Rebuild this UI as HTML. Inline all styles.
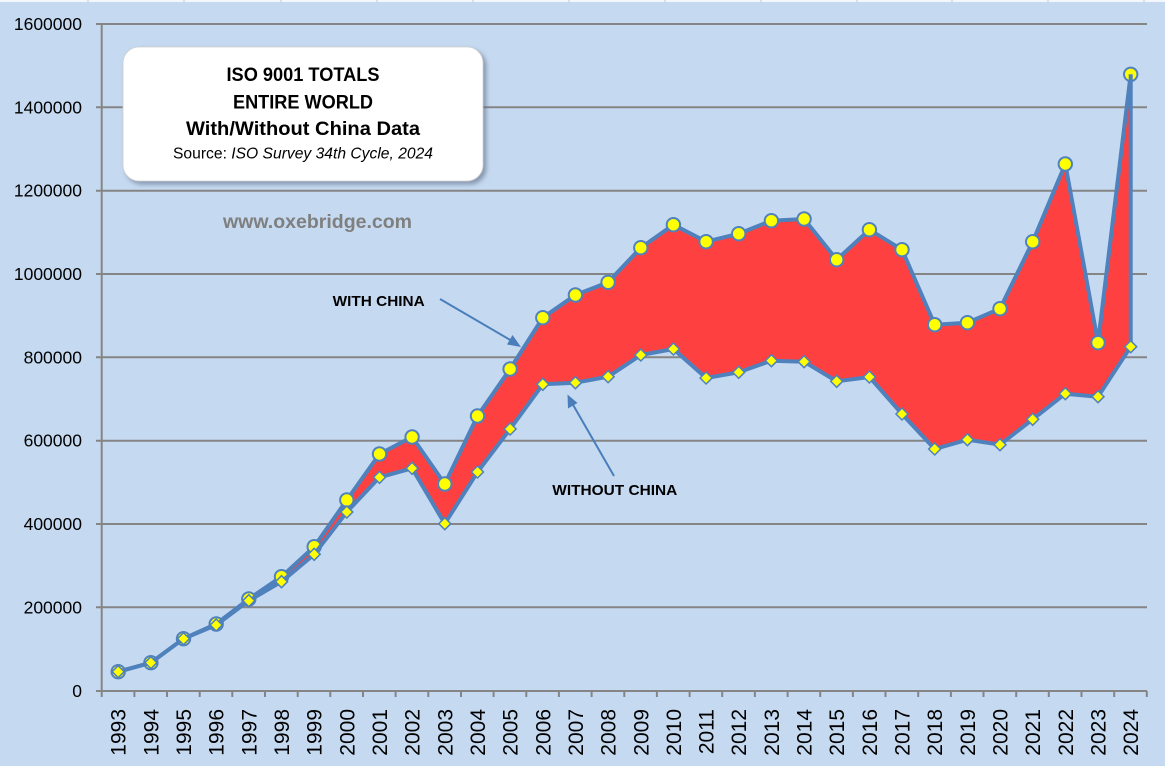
<!DOCTYPE html>
<html>
<head>
<meta charset="utf-8">
<style>
  html, body { margin: 0; padding: 0; background: #c5d9f1; }
  svg { display: block; }
  text { font-family: "Liberation Sans", "DejaVu Sans", sans-serif; }
</style>
</head>
<body>
<svg width="1165" height="766" viewBox="0 0 1165 766" xmlns="http://www.w3.org/2000/svg">
  <defs>
    <filter id="sh" x="-10%" y="-10%" width="125%" height="130%">
      <feDropShadow dx="3" dy="3" stdDeviation="2.5" flood-color="#5a6a80" flood-opacity="0.6"/>
    </filter>
  </defs>
  <rect x="0" y="0" width="1165" height="766" fill="#c5d9f1"/>
  <!-- top strip -->
  <rect x="0" y="0" width="1165" height="2" fill="#f3f6fa"/>
  <g stroke="#c8c8c8" stroke-width="1">
    <line x1="88" y1="0" x2="88" y2="2"/><line x1="184" y1="0" x2="184" y2="2"/>
    <line x1="281" y1="0" x2="281" y2="2"/><line x1="377" y1="0" x2="377" y2="2"/>
    <line x1="473" y1="0" x2="473" y2="2"/><line x1="569" y1="0" x2="569" y2="2"/>
    <line x1="665" y1="0" x2="665" y2="2"/><line x1="761" y1="0" x2="761" y2="2"/>
    <line x1="857" y1="0" x2="857" y2="2"/><line x1="952" y1="0" x2="952" y2="2"/>
    <line x1="1048" y1="0" x2="1048" y2="2"/><line x1="1144" y1="0" x2="1144" y2="2"/>
  </g>

  <!-- gridlines -->
  <g stroke="#858585" stroke-width="2">
    <line x1="96" y1="24" x2="1147" y2="24"/>
    <line x1="96" y1="107.3" x2="1147" y2="107.3"/>
    <line x1="96" y1="190.7" x2="1147" y2="190.7"/>
    <line x1="96" y1="274" x2="1147" y2="274"/>
    <line x1="96" y1="357.3" x2="1147" y2="357.3"/>
    <line x1="96" y1="440.7" x2="1147" y2="440.7"/>
    <line x1="96" y1="524" x2="1147" y2="524"/>
    <line x1="96" y1="607.3" x2="1147" y2="607.3"/>
    <line x1="96" y1="691" x2="1147" y2="691"/>
    <line x1="101.7" y1="24" x2="101.7" y2="691"/>
  </g>
  <!-- x ticks -->
  <g stroke="#858585" stroke-width="2">
    <line x1="101.7" y1="691" x2="101.7" y2="697"/><line x1="134.4" y1="691" x2="134.4" y2="697"/>
    <line x1="167" y1="691" x2="167" y2="697"/><line x1="199.7" y1="691" x2="199.7" y2="697"/>
    <line x1="232.3" y1="691" x2="232.3" y2="697"/><line x1="265" y1="691" x2="265" y2="697"/>
    <line x1="297.7" y1="691" x2="297.7" y2="697"/><line x1="330.3" y1="691" x2="330.3" y2="697"/>
    <line x1="363" y1="691" x2="363" y2="697"/><line x1="395.6" y1="691" x2="395.6" y2="697"/>
    <line x1="428.3" y1="691" x2="428.3" y2="697"/><line x1="461" y1="691" x2="461" y2="697"/>
    <line x1="493.6" y1="691" x2="493.6" y2="697"/><line x1="526.3" y1="691" x2="526.3" y2="697"/>
    <line x1="558.9" y1="691" x2="558.9" y2="697"/><line x1="591.6" y1="691" x2="591.6" y2="697"/>
    <line x1="624.3" y1="691" x2="624.3" y2="697"/><line x1="656.9" y1="691" x2="656.9" y2="697"/>
    <line x1="689.6" y1="691" x2="689.6" y2="697"/><line x1="722.2" y1="691" x2="722.2" y2="697"/>
    <line x1="754.9" y1="691" x2="754.9" y2="697"/><line x1="787.6" y1="691" x2="787.6" y2="697"/>
    <line x1="820.2" y1="691" x2="820.2" y2="697"/><line x1="852.9" y1="691" x2="852.9" y2="697"/>
    <line x1="885.5" y1="691" x2="885.5" y2="697"/><line x1="918.2" y1="691" x2="918.2" y2="697"/>
    <line x1="950.9" y1="691" x2="950.9" y2="697"/><line x1="983.5" y1="691" x2="983.5" y2="697"/>
    <line x1="1016.2" y1="691" x2="1016.2" y2="697"/><line x1="1048.8" y1="691" x2="1048.8" y2="697"/>
    <line x1="1081.5" y1="691" x2="1081.5" y2="697"/><line x1="1114.2" y1="691" x2="1114.2" y2="697"/>
    <line x1="1146.8" y1="691" x2="1146.8" y2="697"/>
  </g>
  <!-- y ticks -->
  <g stroke="#858585" stroke-width="2">
  </g>

  <!-- y labels -->
  <g font-size="17.5" fill="#000" text-anchor="end">
    <text x="82" y="30">1600000</text>
    <text x="82" y="113.3">1400000</text>
    <text x="82" y="196.7">1200000</text>
    <text x="82" y="280">1000000</text>
    <text x="82" y="363.3">800000</text>
    <text x="82" y="446.7">600000</text>
    <text x="82" y="530">400000</text>
    <text x="82" y="613.3">200000</text>
    <text x="82" y="697">0</text>
  </g>

  <!-- x labels -->
  <g font-size="21" fill="#000" text-anchor="end">
    <text transform="translate(125.7,709) rotate(-90)">1993</text>
    <text transform="translate(158.4,709) rotate(-90)">1994</text>
    <text transform="translate(191,709) rotate(-90)">1995</text>
    <text transform="translate(223.7,709) rotate(-90)">1996</text>
    <text transform="translate(256.3,709) rotate(-90)">1997</text>
    <text transform="translate(289,709) rotate(-90)">1998</text>
    <text transform="translate(321.7,709) rotate(-90)">1999</text>
    <text transform="translate(354.3,709) rotate(-90)">2000</text>
    <text transform="translate(387,709) rotate(-90)">2001</text>
    <text transform="translate(419.6,709) rotate(-90)">2002</text>
    <text transform="translate(452.3,709) rotate(-90)">2003</text>
    <text transform="translate(485,709) rotate(-90)">2004</text>
    <text transform="translate(517.6,709) rotate(-90)">2005</text>
    <text transform="translate(550.3,709) rotate(-90)">2006</text>
    <text transform="translate(582.9,709) rotate(-90)">2007</text>
    <text transform="translate(615.6,709) rotate(-90)">2008</text>
    <text transform="translate(648.3,709) rotate(-90)">2009</text>
    <text transform="translate(680.9,709) rotate(-90)">2010</text>
    <text transform="translate(713.6,709) rotate(-90)">2011</text>
    <text transform="translate(746.2,709) rotate(-90)">2012</text>
    <text transform="translate(778.9,709) rotate(-90)">2013</text>
    <text transform="translate(811.6,709) rotate(-90)">2014</text>
    <text transform="translate(844.2,709) rotate(-90)">2015</text>
    <text transform="translate(876.9,709) rotate(-90)">2016</text>
    <text transform="translate(909.5,709) rotate(-90)">2017</text>
    <text transform="translate(942.2,709) rotate(-90)">2018</text>
    <text transform="translate(974.9,709) rotate(-90)">2019</text>
    <text transform="translate(1007.5,709) rotate(-90)">2020</text>
    <text transform="translate(1040.2,709) rotate(-90)">2021</text>
    <text transform="translate(1072.8,709) rotate(-90)">2022</text>
    <text transform="translate(1105.5,709) rotate(-90)">2023</text>
    <text transform="translate(1138.2,709) rotate(-90)">2024</text>
  </g>

  <!-- red area -->
  <polygon fill="#fe4040" points="
    118.2,671.7 150.9,662.7 183.5,638.7 216.2,624 248.8,599 281.5,576.7 314.2,546.7 346.8,500 379.5,454 412.1,437 444.8,484 477.5,416 510.1,369 542.8,317.7 575.4,295 608.1,282.3 640.8,247.7 673.4,224.7 706.1,241.7 738.7,233.7 771.4,220.7 804.1,219 836.7,259.7 869.4,229.7 902,249.7 934.7,324.7 967.4,322.7 1000,308.7 1032.7,241.7 1065.3,164 1098,342.7 1130.7,74.3
    1130.7,346.7 1098,396.7 1065.3,393.7 1032.7,419.3 1000,444.7 967.4,439.7 934.7,449 902,414 869.4,377 836.7,381.3 804.1,361.7 771.4,360.7 738.7,372.3 706.1,378 673.4,349 640.8,355 608.1,376.7 575.4,382.7 542.8,384.3 510.1,429 477.5,472 444.8,523.7 412.1,468.3 379.5,477.3 346.8,512 314.2,554.3 281.5,581.7 248.8,600.7 216.2,625 183.5,638.7 150.9,662.7 118.2,671.7"/>

  <!-- with china line -->
  <polyline fill="none" stroke="#4f81bd" stroke-width="4" stroke-linejoin="round" points="
    118.2,671.7 150.9,662.7 183.5,638.7 216.2,624 248.8,599 281.5,576.7 314.2,546.7 346.8,500 379.5,454 412.1,437 444.8,484 477.5,416 510.1,369 542.8,317.7 575.4,295 608.1,282.3 640.8,247.7 673.4,224.7 706.1,241.7 738.7,233.7 771.4,220.7 804.1,219 836.7,259.7 869.4,229.7 902,249.7 934.7,324.7 967.4,322.7 1000,308.7 1032.7,241.7 1065.3,164 1098,342.7 1130.7,74.3"/>
  <g fill="#ffff00" stroke="#4f81bd" stroke-width="2">
    <circle cx="118.2" cy="671.7" r="6.7"/><circle cx="150.9" cy="662.7" r="6.7"/>
    <circle cx="183.5" cy="638.7" r="6.7"/><circle cx="216.2" cy="624" r="6.7"/>
    <circle cx="248.8" cy="599" r="6.7"/><circle cx="281.5" cy="576.7" r="6.7"/>
    <circle cx="314.2" cy="546.7" r="6.7"/><circle cx="346.8" cy="500" r="6.7"/>
    <circle cx="379.5" cy="454" r="6.7"/><circle cx="412.1" cy="437" r="6.7"/>
    <circle cx="444.8" cy="484" r="6.7"/><circle cx="477.5" cy="416" r="6.7"/>
    <circle cx="510.1" cy="369" r="6.7"/><circle cx="542.8" cy="317.7" r="6.7"/>
    <circle cx="575.4" cy="295" r="6.7"/><circle cx="608.1" cy="282.3" r="6.7"/>
    <circle cx="640.8" cy="247.7" r="6.7"/><circle cx="673.4" cy="224.7" r="6.7"/>
    <circle cx="706.1" cy="241.7" r="6.7"/><circle cx="738.7" cy="233.7" r="6.7"/>
    <circle cx="771.4" cy="220.7" r="6.7"/><circle cx="804.1" cy="219" r="6.7"/>
    <circle cx="836.7" cy="259.7" r="6.7"/><circle cx="869.4" cy="229.7" r="6.7"/>
    <circle cx="902" cy="249.7" r="6.7"/><circle cx="934.7" cy="324.7" r="6.7"/>
    <circle cx="967.4" cy="322.7" r="6.7"/><circle cx="1000" cy="308.7" r="6.7"/>
    <circle cx="1032.7" cy="241.7" r="6.7"/><circle cx="1065.3" cy="164" r="6.7"/>
    <circle cx="1098" cy="342.7" r="6.7"/><circle cx="1130.7" cy="74.3" r="6.7"/>
  </g>

  <!-- without china line -->
  <polyline fill="none" stroke="#4f81bd" stroke-width="4" stroke-linejoin="round" points="
    118.2,671.7 150.9,662.7 183.5,638.7 216.2,625 248.8,600.7 281.5,581.7 314.2,554.3 346.8,512 379.5,477.3 412.1,468.3 444.8,523.7 477.5,472 510.1,429 542.8,384.3 575.4,382.7 608.1,376.7 640.8,355 673.4,349 706.1,378 738.7,372.3 771.4,360.7 804.1,361.7 836.7,381.3 869.4,377 902,414 934.7,449 967.4,439.7 1000,444.7 1032.7,419.3 1065.3,393.7 1098,396.7 1130.7,346.7"/>
  <line x1="1130.7" y1="74.3" x2="1130.7" y2="346.7" stroke="#4f81bd" stroke-width="4"/>
  <g fill="#ffff00" stroke="#4f81bd" stroke-width="1.5">
    <path d="M118.2 665.7 l6 6 -6 6 -6 -6z"/><path d="M150.9 656.7 l6 6 -6 6 -6 -6z"/>
    <path d="M183.5 632.7 l6 6 -6 6 -6 -6z"/><path d="M216.2 619 l6 6 -6 6 -6 -6z"/>
    <path d="M248.8 594.7 l6 6 -6 6 -6 -6z"/><path d="M281.5 575.7 l6 6 -6 6 -6 -6z"/>
    <path d="M314.2 548.3 l6 6 -6 6 -6 -6z"/><path d="M346.8 506 l6 6 -6 6 -6 -6z"/>
    <path d="M379.5 471.3 l6 6 -6 6 -6 -6z"/><path d="M412.1 462.3 l6 6 -6 6 -6 -6z"/>
    <path d="M444.8 517.7 l6 6 -6 6 -6 -6z"/><path d="M477.5 466 l6 6 -6 6 -6 -6z"/>
    <path d="M510.1 423 l6 6 -6 6 -6 -6z"/><path d="M542.8 378.3 l6 6 -6 6 -6 -6z"/>
    <path d="M575.4 376.7 l6 6 -6 6 -6 -6z"/><path d="M608.1 370.7 l6 6 -6 6 -6 -6z"/>
    <path d="M640.8 349 l6 6 -6 6 -6 -6z"/><path d="M673.4 343 l6 6 -6 6 -6 -6z"/>
    <path d="M706.1 372 l6 6 -6 6 -6 -6z"/><path d="M738.7 366.3 l6 6 -6 6 -6 -6z"/>
    <path d="M771.4 354.7 l6 6 -6 6 -6 -6z"/><path d="M804.1 355.7 l6 6 -6 6 -6 -6z"/>
    <path d="M836.7 375.3 l6 6 -6 6 -6 -6z"/><path d="M869.4 371 l6 6 -6 6 -6 -6z"/>
    <path d="M902 408 l6 6 -6 6 -6 -6z"/><path d="M934.7 443 l6 6 -6 6 -6 -6z"/>
    <path d="M967.4 433.7 l6 6 -6 6 -6 -6z"/><path d="M1000 438.7 l6 6 -6 6 -6 -6z"/>
    <path d="M1032.7 413.3 l6 6 -6 6 -6 -6z"/><path d="M1065.3 387.7 l6 6 -6 6 -6 -6z"/>
    <path d="M1098 390.7 l6 6 -6 6 -6 -6z"/><path d="M1130.7 340.7 l6 6 -6 6 -6 -6z"/>
  </g>

  <!-- arrows -->
  <g stroke="#4a7ebb" stroke-width="2" fill="#4a7ebb">
    <line x1="440" y1="299" x2="512" y2="341"/>
    <polygon points="521,347 507,344.5 512.5,335" stroke="none"/>
    <line x1="614" y1="476" x2="572" y2="403"/>
    <polygon points="567.5,394.5 577.5,403 568,408.5" stroke="none"/>
  </g>

  <!-- annotations -->
  <g font-weight="bold" font-size="15" fill="#000">
    <text x="332.7" y="306" textLength="92" lengthAdjust="spacingAndGlyphs">WITH CHINA</text>
    <text x="552.3" y="495" textLength="125" lengthAdjust="spacingAndGlyphs">WITHOUT CHINA</text>
  </g>
  <text x="223" y="228" font-size="19" font-weight="bold" fill="#7f7f7f" textLength="189" lengthAdjust="spacingAndGlyphs">www.oxebridge.com</text>

  <!-- title box -->
  <rect x="123" y="47" width="360" height="134" rx="16" ry="16" fill="#ffffff" stroke="#d0d0d0" stroke-width="0.8" filter="url(#sh)"/>
  <g text-anchor="middle" fill="#000">
    <text x="303" y="81" font-size="19.5" font-weight="bold" textLength="153" lengthAdjust="spacingAndGlyphs">ISO 9001 TOTALS</text>
    <text x="303" y="108.5" font-size="19.5" font-weight="bold" textLength="140" lengthAdjust="spacingAndGlyphs">ENTIRE WORLD</text>
    <text x="303" y="135" font-size="19.5" font-weight="bold" textLength="234" lengthAdjust="spacingAndGlyphs">With/Without China Data</text>
    <text x="303" y="158.3" font-size="15.5" textLength="260" lengthAdjust="spacingAndGlyphs">Source: <tspan font-style="italic">ISO Survey 34th Cycle, 2024</tspan></text>
  </g>
</svg>
</body>
</html>
